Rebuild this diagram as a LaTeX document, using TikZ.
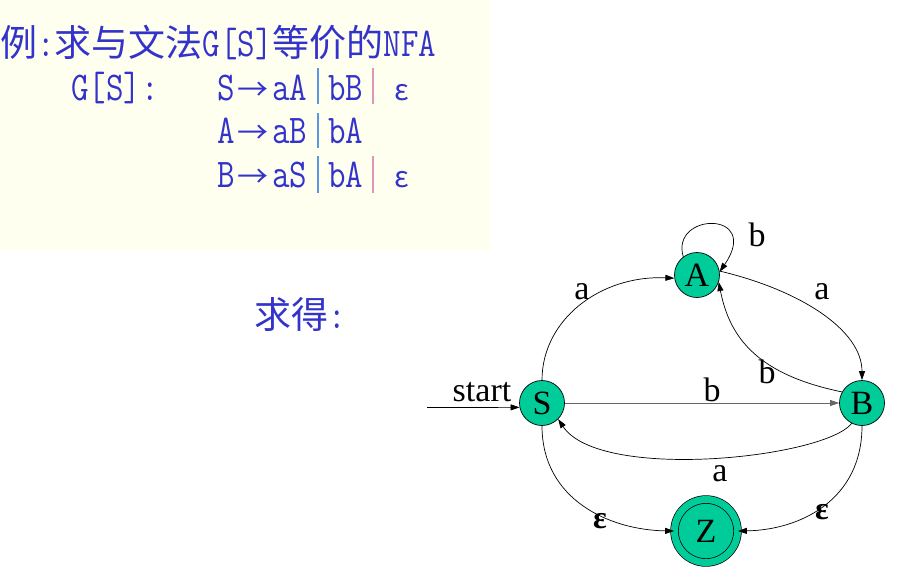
\documentclass[tikz,border=0pt]{standalone}
\usepackage{fontspec}
\setmainfont{Liberation Serif}
\newfontfamily\cjk{Noto Sans CJK SC}
\usetikzlibrary{arrows.meta}
\definecolor{txtblue}{RGB}{51,51,204}
\definecolor{bgyellow}{RGB}{255,255,240}
\definecolor{stgreen}{RGB}{0,204,153}
\definecolor{barblue}{RGB}{90,150,225}
\definecolor{barpink}{RGB}{220,150,185}
\newcommand{\cj}[1]{{\cjk\fontsize{37}{40}\selectfont #1}}
\newcommand{\mt}[1]{\scalebox{1}[1.2]{\ttfamily\fontsize{34}{38}\selectfont #1}}
\newcommand{\gm}[1]{\scalebox{1}[1.2]{\ttfamily\fontsize{34}{38}\selectfont #1}}
\newcommand{\ar}{\resizebox{31pt}{\height}{\cjk\fontsize{30}{34}\selectfont →}}
\newcommand{\ep}{{\cjk\fontsize{29}{34}\selectfont ε}}
\begin{document}
\begin{tikzpicture}[x=1pt,y=-1pt,
  state/.style={circle,draw=black,fill=stgreen,line width=0.7pt,minimum size=45pt,inner sep=0pt,font=\fontsize{34}{36}\selectfont},
  acc/.style={state,minimum size=63pt,double=stgreen,double distance=7pt},
  tr/.style={line width=0.7pt,-{Triangle[length=9pt,width=6pt]}},
  lab/.style={inner sep=0pt,font=\fontsize{34}{36}\selectfont},
  elab/.style={inner sep=0pt,font=\fontsize{32}{36}\selectfont\bfseries},
  gtxt/.style={inner sep=0pt,anchor=base west,text=txtblue},
  bar/.style={line width=1.1pt}]
\useasboundingbox (0,0) rectangle (915,584);
\fill[bgyellow] (0,0) rectangle (490,250);
% title and grammar
\node[gtxt] (title) at (0,56) {\cj{例}\mt{:}\cj{求与文法}\mt{G[S]}\cj{等价的}\mt{NFA}};
\node[gtxt] (gs) at (71,100) {\gm{G[S]:}};
\node[gtxt] (r1s) at (217,100) {\gm{S}};
\node[gtxt] (r1a) at (237,100) {\ar};
\node[gtxt] (r1) at (272,100) {\gm{aA}};
\node[gtxt] (r1b) at (328,100) {\gm{bB}};
\node[gtxt] (r1e) at (394,100) {\ep};
\node[gtxt] (r2s) at (217,143) {\gm{A}};
\node[gtxt] (r2a) at (237,143) {\ar};
\node[gtxt] (r2) at (272,143) {\gm{aB}};
\node[gtxt] (r2b) at (328,143) {\gm{bA}};
\node[gtxt] (r3s) at (217,187) {\gm{B}};
\node[gtxt] (r3a) at (237,187) {\ar};
\node[gtxt] (r3) at (272,187) {\gm{aS}};
\node[gtxt] (r3b) at (328,187) {\gm{bA}};
\node[gtxt] (r3e) at (394,187) {\ep};
\draw[bar,barblue] (318,68) -- (318,104);
\draw[bar,barpink] (373,68) -- (373,104);
\draw[bar,barblue] (318,113) -- (318,148);
\draw[bar,barblue] (318,156) -- (318,193);
\draw[bar,barpink] (373,156) -- (373,193);
\node[gtxt] (qiude) at (254,328) {\cj{求得}\mt{:}};
% automaton
\node[state] (A) at (697,275) {A};
\node[state] (S) at (542,403) {S};
\node[state] (B) at (862,403) {B};
\node[acc] (Z) at (706,531) {Z};
\coordinate (st) at (427,407.5);
\draw[tr] (st) -- (S.191);
\node[lab,anchor=base] (stl) at (482,401) {start};
\draw[tr] (S.north) .. controls (542,320) and (600,275) .. (A.188);
\node[lab] (la1) at (582,292) {a};
\draw[tr] (A.127) .. controls (670,212) and (762,210) .. (A.8);
\node[lab] (lb1) at (757,235) {b};
\draw[tr] (A.10) .. controls (800,290) and (862,330) .. (B.north);
\node[lab] (la2) at (822,292) {a};
\draw[tr] (B.151) .. controls (760,375) and (730,340) .. (A.-18);
\node[lab] (lb2) at (767,372) {b};
\draw[tr,draw=black!60] (S.east) -- (B.west);
\node[lab] (lb3) at (712,390) {b};
\draw[tr] (B.-117) .. controls (825,458) and (600,482) .. (S.-45);
\node[lab] (la3) at (720,474) {a};
\draw[tr] (S.south) .. controls (542,500) and (610,530) .. (Z.west);
\node[elab] (le1) at (600,521) {ε};
\draw[tr] (B.south) .. controls (862,500) and (800,530) .. (Z.east);
\node[elab] (le2) at (822,512) {ε};
\end{tikzpicture}
\end{document}
